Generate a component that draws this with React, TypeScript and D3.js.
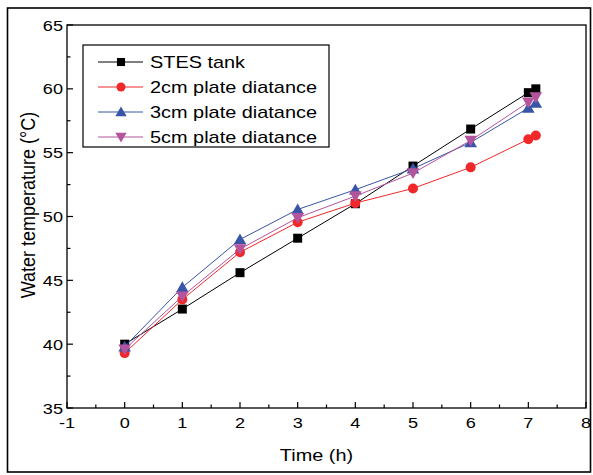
import React from "react";
import * as d3 from "d3";

const timesMain = [0, 1, 2, 3, 4, 5, 6, 7, 7.13];
const stes = [40.0, 42.75, 45.6, 48.3, 51.0, 53.95, 56.85, 59.7, 60.0];
const cm2 = [39.3, 43.5, 47.2, 49.55, 51.05, 52.2, 53.85, 56.05, 56.35];
const cm3 = [39.8, 44.45, 48.2, 50.55, 52.1, 53.75, 55.8, 58.5, 58.9];
const cm5 = [39.6, 43.75, 47.45, 49.9, 51.6, 53.4, 55.95, 58.95, 59.35];
const seriesNames = ["STES tank", "2cm plate diatance", "3cm plate diatance", "5cm plate diatance"];
const seriesColors = ["#000000", "#f0282a", "#3a55a8", "#b3549e"];
const seriesMarkers = ["square", "circle", "triangle", "down"];
const xTicks = [-1, 0, 1, 2, 3, 4, 5, 6, 7, 8];
const yTicks = [35, 40, 45, 50, 55, 60, 65];

const W = 593, H = 475;
const L = 67, R = 586, T = 25, B = 408;
const SX = 1.17;

function Marker({ type, x, y, color, s = 1 }: { type: string; x: number; y: number; color: string; s?: number }) {
  if (type === "square") return <rect x={x - 4.5 * s} y={y - 4.5 * s} width={9 * s} height={9 * s} fill={color} />;
  if (type === "circle") return <circle cx={x} cy={y} r={5 * s} fill={color} />;
  const k = 6 * s;
  if (type === "triangle") {
    return <path d={`M${x},${y - k} L${x + k * 1.05},${y + k * 0.8} L${x - k * 1.05},${y + k * 0.8} Z`} fill={color} />;
  }
  return <path d={`M${x},${y + k} L${x + k * 1.05},${y - k * 0.8} L${x - k * 1.05},${y - k * 0.8} Z`} fill={color} />;
}

function T2({ x, y, size, anchor, children }: { x: number; y: number; size: number; anchor: string; children: React.ReactNode }) {
  return (
    <text transform={`translate(${x},${y}) scale(${SX},1)`} textAnchor={anchor} fontSize={size}>
      {children}
    </text>
  );
}

export default function App() {
  const x = d3.scaleLinear().domain([-1, 8]).range([L, R]);
  const y = d3.scaleLinear().domain([35, 65]).range([B, T]);
  const all = [stes, cm2, cm3, cm5];
  const line = d3.line<[number, number]>().x((d) => x(d[0])).y((d) => y(d[1]));
  const minorX = d3.range(-0.5, 8, 1);
  const minorY = d3.range(37.5, 65, 5);
  const font = "Liberation Sans, Arial, sans-serif";
  return (
    <svg width={W} height={H} style={{ position: "absolute", left: 0, top: 0 }} fontFamily={font}>
      <rect x={0} y={0} width={W} height={H} fill="#fff" />
      <rect x={7.5} y={8} width={583} height={464} fill="none" stroke="#000" strokeWidth={1.6} />
      <rect x={L} y={T} width={R - L} height={B - T} fill="none" stroke="#000" strokeWidth={1.3} />
      {xTicks.map((t) => (
        <g key={"x" + t}>
          <line x1={x(t)} x2={x(t)} y1={B} y2={B - 6} stroke="#000" strokeWidth={1.2} />
          <T2 x={x(t)} y={B + 19.5} size={15.5} anchor="middle">{t}</T2>
        </g>
      ))}
      {minorX.map((t) => (
        <line key={"mx" + t} x1={x(t)} x2={x(t)} y1={B} y2={B - 3.5} stroke="#000" strokeWidth={1.2} />
      ))}
      {yTicks.map((t) => (
        <g key={"y" + t}>
          <line x1={L} x2={L + 6} y1={y(t)} y2={y(t)} stroke="#000" strokeWidth={1.2} />
          <T2 x={L - 4} y={y(t) + 5.5} size={15.5} anchor="end">{t}</T2>
        </g>
      ))}
      {minorY.map((t) => (
        <line key={"my" + t} x1={L} x2={L + 3.5} y1={y(t)} y2={y(t)} stroke="#000" strokeWidth={1.2} />
      ))}
      <T2 x={(L + R) / 2 - 10} y={461} size={17} anchor="middle">Time (h)</T2>
      <text transform={`translate(35,205) rotate(-90) scale(1,${SX})`} textAnchor="middle" fontSize={18}>Water temperature (°C)</text>
      {all.map((vals, i) => {
        const pts = timesMain.map((t, j) => [t, vals[j]] as [number, number]);
        return (
          <g key={"s" + i}>
            <path d={line(pts) || ""} fill="none" stroke={seriesColors[i]} strokeWidth={1} />
            {pts.map((p, j) => (
              <Marker key={j} type={seriesMarkers[i]} x={x(p[0])} y={y(p[1])} color={seriesColors[i]} />
            ))}
          </g>
        );
      })}
      <rect x={83} y={45} width={246} height={102} fill="#fff" stroke="#000" strokeWidth={1.2} />
      {seriesNames.map((n, i) => {
        const ly = 62 + i * 25;
        return (
          <g key={"l" + i}>
            <line x1={98} x2={143} y1={ly} y2={ly} stroke={seriesColors[i]} strokeWidth={1} />
            <Marker type={seriesMarkers[i]} x={121} y={ly} color={seriesColors[i]} s={0.9} />
            <T2 x={150} y={ly + 6} size={17} anchor="start">{n}</T2>
          </g>
        );
      })}
    </svg>
  );
}
